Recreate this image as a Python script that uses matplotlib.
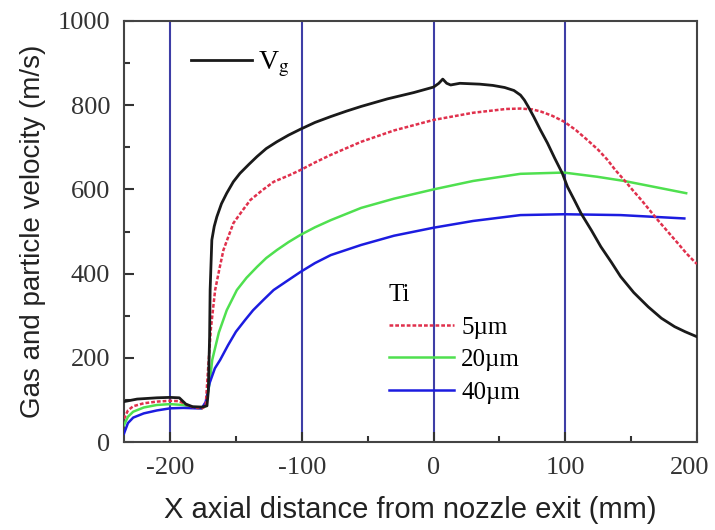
import numpy as np
import matplotlib
matplotlib.use("Agg")
import matplotlib.pyplot as plt
from matplotlib.ticker import MultipleLocator
from matplotlib.transforms import ScaledTranslation

# gas velocity Vg (black)
gas_x = [-235, -225, -210, -200, -193, -188, -183, -176, -172, -171, -170, -169.6, -168.3,
         -166.5, -164.5, -161, -157, -152, -147, -140, -134, -127, -119, -110, -101, -90, -78,
         -66, -55, -35, -15, 0, 4, 7, 10, 13, 20, 35, 45, 54, 61, 66, 69, 72, 76, 81, 86.5, 92,
         97.8, 101.7, 107, 112, 120, 127, 135, 142, 152, 163, 173, 183, 191, 200]
gas_v = [96, 102, 105, 106, 105, 90, 84, 83, 86, 120, 250, 361, 480,
         512, 535, 566, 591, 618, 638, 660, 678, 697, 713, 729, 743, 759, 773,
         786, 797, 815, 830, 843, 852, 862, 852, 848, 852, 850, 847, 842, 835, 824, 812, 796, 773, 742, 710, 674,
         638, 606, 574, 543, 502, 464, 427, 393, 355, 321, 294, 274, 262, 250]

# Ti particles, 5 um (red)
p5_x = [-235, -232, -228, -220, -210, -200, -193, -187, -182, -176, -173, -171, -169, -165.8,
        -162.5, -159.5, -155.5, -151.9, -145, -139, -130, -121.4, -110, -101, -90, -78, -55,
        -30, 0, 30, 55, 66, 75, 81.4, 90, 99.1, 108, 116.9, 125, 132.1, 138, 144.8, 151,
        157.7, 164, 170.3, 178, 185.5, 192, 198.2, 200]
p5_v = [55, 75, 85, 92, 96, 98, 97, 88, 82, 80, 85, 180, 270, 361,
        412, 456, 490, 520, 550, 575, 598, 618, 633, 646, 664, 682, 713,
        740, 765, 782, 791, 792, 790, 785, 775, 761, 741, 717, 694, 670, 646, 622, 599,
        575, 551, 527, 499, 472, 448, 428, 423]

# Ti particles, 20 um (green)
p20_x = [-235, -232, -228, -220, -210, -200, -190, -182, -176, -173, -170, -168, -163, -157,
         -149.3, -142, -134, -127, -118.9, -110, -101, -90, -78, -55, -30, 0, 30, 66, 99,
         124.3, 144.8, 167.5, 191.8]
p20_v = [40, 60, 72, 82, 88, 90, 88, 82, 80, 85, 140, 195, 260, 313,
         361, 390, 416, 437, 456, 475, 492, 510, 527, 556, 578, 600, 620, 637, 640,
         630, 620, 606, 591]

# Ti particles, 40 um (blue)
p40_x = [-235, -232, -228, -220, -210, -200, -190, -180, -176, -173, -170, -166, -162, -156,
         -150, -143, -137, -129, -121.4, -111, -101, -90, -78, -55, -30, 0, 30, 66, 99,
         142, 190.4]
p40_v = [20, 45, 58, 68, 75, 80, 81, 80, 80, 95, 140, 175, 195, 230,
         262, 290, 313, 338, 361, 383, 404, 425, 444, 468, 490, 509, 525, 539, 541,
         539, 531]

marker_x = [-200, -100, 0, 100]
x_ticks = [-200, -100, 0, 100, 200]
x_ticklabels = ["-200", "-100", "0", "100", "200"]

serif = ["Liberation Serif", "DejaVu Serif"]
sans = ["Liberation Sans", "DejaVu Sans"]
plt.rcParams["mathtext.fontset"] = "stix"

fig = plt.figure(figsize=(7.15, 5.3), dpi=100)
ax = fig.add_axes([0.1734, 0.166, 0.8014, 0.7944])

for xv in marker_x:
    ax.axvline(xv, color="#3e3ea6", lw=1.5, zorder=1)

gas_line, = ax.plot(gas_x, gas_v, color="#1a1a1a", lw=2.0, zorder=5)
l5, = ax.plot(p5_x, p5_v, color="#e0304c", lw=1.8, ls=(0, (1.5, 0.8)), zorder=4)
l20, = ax.plot(p20_x, p20_v, color="#4fe04f", lw=1.8, zorder=3)
l40, = ax.plot(p40_x, p40_v, color="#1c1ce0", lw=1.8, zorder=3)

ax.set_xlim(-235, 200)
ax.set_ylim(0, 1000)
ax.set_xticks(x_ticks)
ax.set_xticklabels(x_ticklabels)
ax.xaxis.set_minor_locator(MultipleLocator(50))
ax.yaxis.set_major_locator(MultipleLocator(200))
ax.yaxis.set_minor_locator(MultipleLocator(100))
ax.tick_params(which="both", direction="in", top=False, right=False, colors="#333333")
ax.tick_params(which="major", length=7, width=1.5, labelsize=19)
ax.tick_params(axis="x", which="major", pad=11)
ax.tick_params(axis="y", which="major", pad=10)
ax.tick_params(which="minor", length=4, width=1.5)
for lab in ax.get_xticklabels() + ax.get_yticklabels():
    lab.set_family(serif)
# the last x label sits a little left of its tick, as in the source figure
last = ax.get_xticklabels()[-1]
last.set_transform(last.get_transform() + ScaledTranslation(-5 / 72, 0, fig.dpi_scale_trans))
for sp in ax.spines.values():
    sp.set_color("#444444")
    sp.set_linewidth(1.5)

ax.set_xlabel("X axial distance from nozzle exit (mm)", family=sans, fontsize=21, color="#222222", labelpad=12)
ax.set_ylabel("Gas and particle velocity (m/s)", family=sans, fontsize=20, color="#222222", labelpad=8)

leg1 = ax.legend([gas_line], ["V$_{\\mathrm{g}}$"], loc="upper left", bbox_to_anchor=(0.093, 0.965),
                 frameon=False, handlelength=2.2, handletextpad=0.2, borderpad=0,
                 prop={"family": serif, "size": 20})
ax.add_artist(leg1)
leg2 = ax.legend([l5, l20, l40], ["5µm", "20µm", "40µm"], title="Ti", loc="upper left",
                 bbox_to_anchor=(0.44, 0.405), frameon=False, handlelength=2.6, handletextpad=0.3,
                 labelspacing=0.4, borderpad=0, alignment="left",
                 prop={"family": serif, "size": 18}, title_fontproperties={"family": serif, "size": 18})

fig.savefig("out.png", dpi=100)
